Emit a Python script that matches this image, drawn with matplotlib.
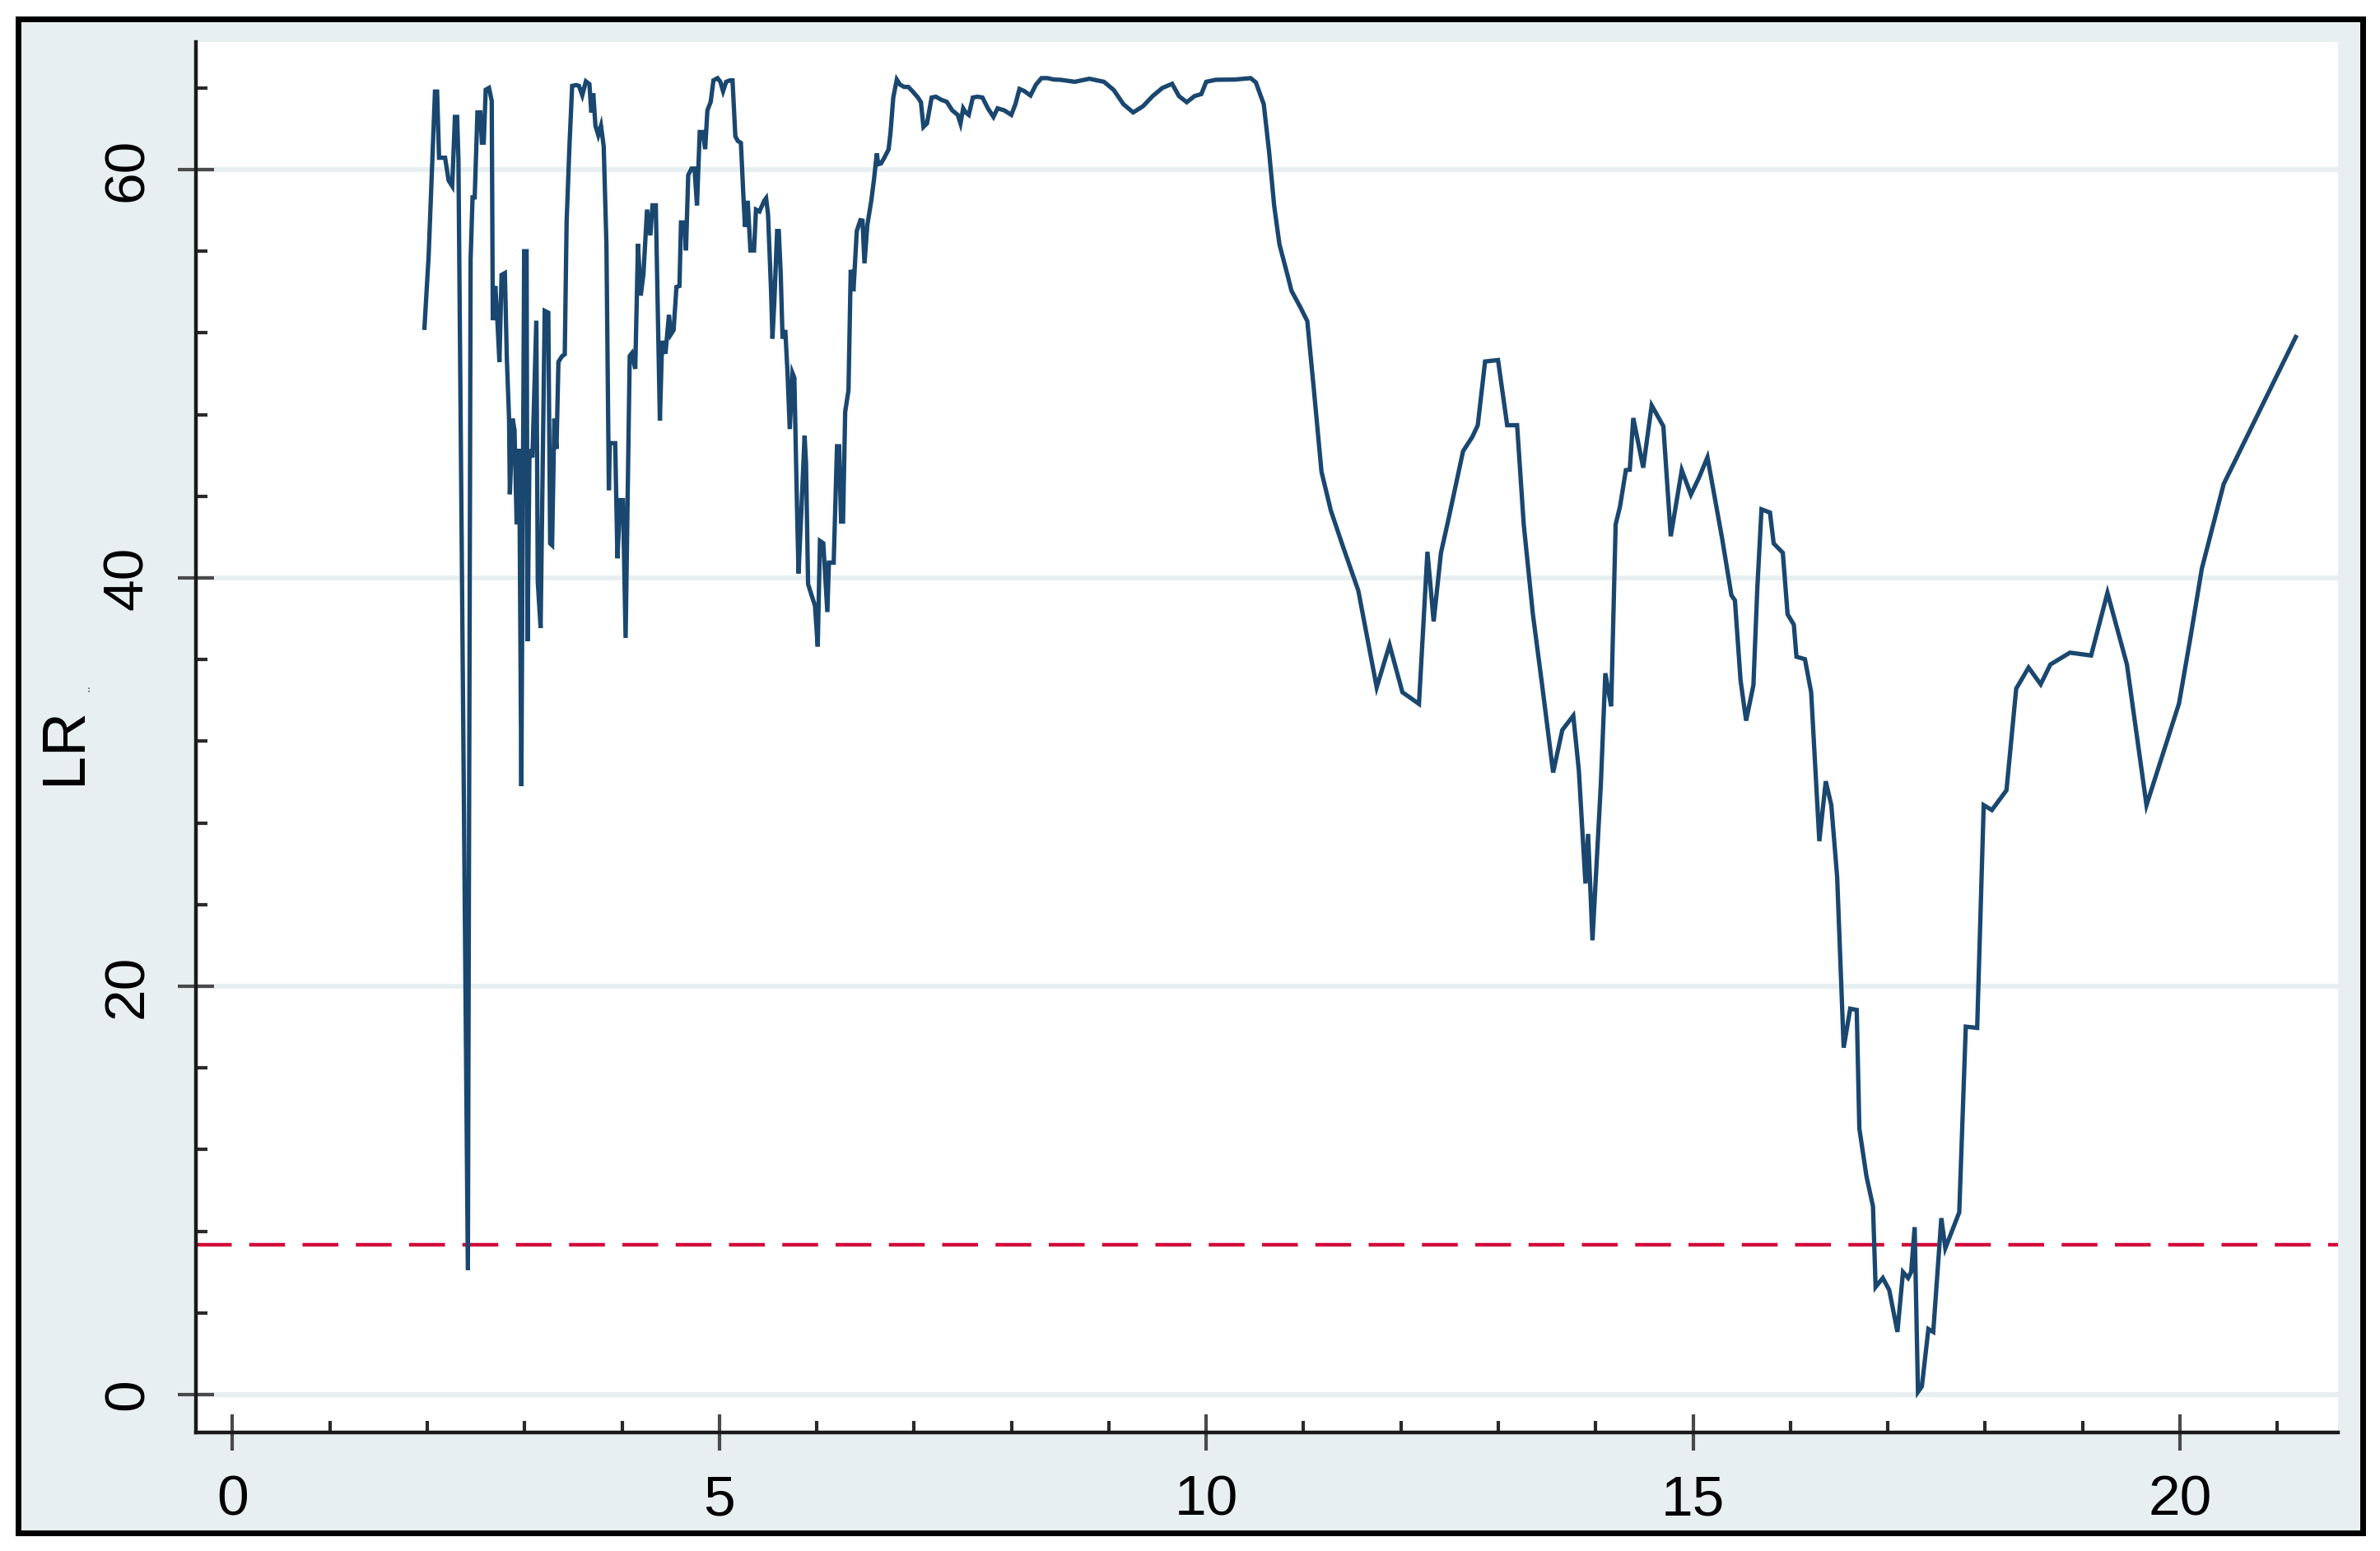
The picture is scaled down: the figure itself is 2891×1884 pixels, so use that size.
import numpy as np
import matplotlib
matplotlib.use("Agg")
import matplotlib.pyplot as plt
from matplotlib.ticker import MultipleLocator, FixedLocator
from matplotlib.patches import Rectangle

# threshold values (x) and likelihood-ratio statistic (y)
threshold = [
    1.971, 2.014, 2.079, 2.101, 2.121, 2.155, 2.183, 2.219, 2.256, 2.284,
    2.307, 2.320, 2.417, 2.445, 2.465, 2.487, 2.515, 2.544, 2.561, 2.580,
    2.600, 2.634, 2.662, 2.673, 2.699, 2.718, 2.741, 2.763, 2.797, 2.817,
    2.840, 2.848, 2.876, 2.896, 2.918, 2.944, 2.966, 2.995, 3.020, 3.030,
    3.050, 3.080, 3.120, 3.135, 3.164, 3.206, 3.243, 3.262, 3.282, 3.305,
    3.327, 3.347, 3.384, 3.412, 3.431, 3.460, 3.488, 3.530, 3.558, 3.592,
    3.629, 3.665, 3.685, 3.705, 3.727, 3.756, 3.784, 3.812, 3.840, 3.865,
    3.875, 3.930, 3.953, 3.981, 4.010, 4.037, 4.079, 4.100, 4.136, 4.164,
    4.192, 4.220, 4.257, 4.291, 4.313, 4.347, 4.389, 4.412, 4.446, 4.482,
    4.502, 4.530, 4.559, 4.590, 4.606, 4.640, 4.657, 4.680, 4.714, 4.745,
    4.770, 4.798, 4.830, 4.854, 4.877, 4.911, 4.939, 4.981, 5.010, 5.038,
    5.070, 5.108, 5.135, 5.164, 5.190, 5.221, 5.249, 5.263, 5.291, 5.319,
    5.356, 5.376, 5.412, 5.460, 5.480, 5.500, 5.531, 5.545, 5.565, 5.593,
    5.610, 5.630, 5.649, 5.677, 5.700, 5.723, 5.751, 5.770, 5.799, 5.813,
    5.840, 5.875, 5.890, 5.911, 5.950, 5.982, 6.010, 6.033, 6.067, 6.109,
    6.125, 6.174, 6.208, 6.230, 6.250, 6.270, 6.292, 6.326, 6.349, 6.377,
    6.411, 6.448, 6.470, 6.490, 6.520, 6.560, 6.588, 6.617, 6.631, 6.660,
    6.693, 6.738, 6.758, 6.786, 6.822, 6.856, 6.898, 6.940, 6.983, 7.039,
    7.070, 7.096, 7.132, 7.180, 7.223, 7.279, 7.335, 7.392, 7.448, 7.476,
    7.504, 7.530, 7.561, 7.603, 7.650, 7.702, 7.758, 7.815, 7.857, 7.927,
    7.998, 8.040, 8.082, 8.130, 8.195, 8.251, 8.308, 8.370, 8.435, 8.500,
    8.650, 8.800, 8.950, 9.050, 9.150, 9.250, 9.350, 9.450, 9.550, 9.650,
    9.720, 9.800, 9.880, 9.950, 10.000, 10.100, 10.294, 10.456, 10.510, 10.591,
    10.645, 10.698, 10.752, 10.833, 10.876, 10.968, 11.038, 11.103, 11.184, 11.280,
    11.400, 11.562, 11.637, 11.751, 11.883, 12.015, 12.185, 12.272, 12.336, 12.411,
    12.487, 12.581, 12.638, 12.732, 12.789, 12.864, 12.997, 13.091, 13.193, 13.261,
    13.355, 13.450, 13.563, 13.657, 13.770, 13.827, 13.895, 13.922, 13.967, 14.053,
    14.099, 14.159, 14.205, 14.250, 14.310, 14.350, 14.386, 14.488, 14.575, 14.640,
    14.695, 14.771, 14.884, 14.978, 15.060, 15.148, 15.220, 15.299, 15.394, 15.430,
    15.488, 15.545, 15.620, 15.660, 15.703, 15.790, 15.828, 15.922, 15.971, 16.035,
    16.062, 16.149, 16.213, 16.297, 16.363, 16.420, 16.480, 16.547, 16.614, 16.681,
    16.708, 16.781, 16.848, 16.875, 16.949, 17.015, 17.099, 17.156, 17.209, 17.240,
    17.276, 17.310, 17.350, 17.417, 17.467, 17.550, 17.591, 17.734, 17.801, 17.918,
    17.985, 18.069, 18.219, 18.319, 18.446, 18.570, 18.670, 18.871, 19.088, 19.256,
    19.456, 19.657, 19.824, 19.991, 20.108, 20.225, 20.450, 21.190,
]
lr_stat = [
    52.25, 55.77, 63.82, 63.82, 60.58, 60.58, 60.58, 59.47, 59.19, 62.58,
    62.58, 60.50, 6.09, 55.58, 58.64, 58.64, 62.80, 62.80, 61.32, 61.32,
    63.91, 64.00, 63.36, 52.62, 54.29, 52.80, 50.58, 54.84, 54.93, 50.77,
    47.80, 44.10, 47.80, 47.25, 42.62, 46.32, 29.80, 56.00, 56.00, 36.90,
    46.30, 45.90, 52.60, 39.80, 37.55, 53.08, 52.99, 41.69, 41.60, 47.80,
    46.32, 50.58, 50.86, 50.95, 57.43, 61.14, 64.10, 64.14, 64.10, 63.64,
    64.32, 64.19, 62.80, 63.73, 62.15, 61.69, 62.15, 61.14, 56.32, 44.30,
    46.60, 46.60, 40.96, 43.81, 43.81, 37.06, 50.87, 51.00, 50.24, 56.36,
    53.83, 54.88, 58.04, 56.78, 58.25, 58.25, 47.71, 51.61, 50.98, 52.88,
    51.93, 52.14, 54.25, 54.30, 57.41, 57.41, 56.04, 59.73, 60.05, 60.05,
    58.25, 61.84, 61.84, 61.00, 62.90, 63.32, 64.37, 64.48, 64.30, 63.84,
    64.30, 64.37, 64.37, 61.63, 61.40, 61.31, 58.47, 57.20, 58.47, 56.04,
    56.04, 58.04, 57.95, 58.47, 58.60, 57.80, 54.04, 51.72, 53.60, 56.99,
    56.99, 54.90, 51.72, 52.14, 50.03, 47.29, 50.03, 49.80, 43.07, 40.22,
    43.07, 46.97, 45.60, 39.70, 39.10, 38.64, 36.64, 41.81, 41.70, 38.33,
    40.75, 40.75, 46.45, 46.45, 42.76, 42.76, 48.13, 49.19, 55.09, 54.04,
    56.99, 57.52, 57.50, 55.41, 57.30, 58.47, 59.52, 60.79, 60.26, 60.30,
    60.57, 60.99, 61.84, 63.53, 64.41, 64.16, 64.05, 64.05, 63.84, 63.53,
    63.30, 62.09, 62.26, 63.53, 63.57, 63.42, 63.32, 62.90, 62.68, 62.26,
    63.00, 62.80, 62.68, 63.53, 63.57, 63.53, 63.00, 62.58, 63.00, 62.90,
    62.68, 63.20, 63.95, 63.85, 63.63, 64.16, 64.48, 64.48, 64.41, 64.40,
    64.30, 64.45, 64.30, 63.90, 63.20, 62.80, 63.10, 63.60, 64.00, 64.20,
    63.60, 63.30, 63.60, 63.70, 64.30, 64.40, 64.41, 64.48, 64.27, 63.20,
    60.91, 58.23, 56.34, 54.87, 54.06, 53.25, 52.58, 49.36, 45.20, 43.30,
    41.60, 39.38, 37.50, 34.64, 36.72, 34.40, 33.83, 41.28, 37.87, 41.23,
    42.85, 44.93, 46.21, 46.90, 47.48, 50.60, 50.67, 47.48, 47.48, 42.62,
    38.22, 34.75, 30.47, 32.55, 33.25, 30.58, 25.03, 27.46, 22.25, 29.89,
    35.33, 33.71, 42.62, 43.50, 45.28, 45.30, 47.83, 45.40, 48.45, 47.90,
    47.43, 42.04, 45.28, 44.08, 44.90, 45.91, 44.00, 41.92, 39.15, 38.90,
    34.98, 33.01, 34.75, 39.50, 43.36, 43.20, 41.69, 41.23, 38.22, 37.71,
    36.14, 36.02, 34.40, 27.11, 30.04, 28.87, 25.35, 16.99, 18.90, 18.84,
    13.03, 10.69, 9.22, 5.27, 5.71, 5.12, 3.07, 6.00, 5.71, 6.00,
    8.20, 0.13, 0.40, 3.21, 3.07, 8.64, 7.17, 8.93, 18.02, 17.96,
    28.87, 28.63, 29.60, 34.58, 35.61, 34.79, 35.76, 36.34, 36.20, 39.27,
    35.76, 28.87, 31.36, 33.85, 37.07, 40.45, 44.60, 51.80,
]
crit_value = 7.35

x_major = [0, 5, 10, 15, 20]
y_major = [0, 20, 40, 60]

bg = "#e8eff1"
navy = "#1a476f"

plt.rcParams["font.family"] = ["Liberation Sans", "DejaVu Sans"]
plt.rcParams["lines.scale_dashes"] = False

W, H, DPI = 2891, 1884, 200
fig = plt.figure(figsize=(W / DPI, H / DPI), dpi=DPI, facecolor="white")

# outer panel with black frame, kept behind the axes
frame = Rectangle((21.5 / W, 1 - 1861.5 / H), (2870 - 21.5) / W, (1861.5 - 22.5) / H,
                  transform=fig.transFigure, facecolor=bg, edgecolor="black",
                  linewidth=2.5, zorder=-10)
fig.patches.append(frame)

ax = fig.add_axes([238 / W, 1 - 1740 / H, (2840 - 238) / W, (1740 - 51) / H])
ax.set_zorder(1)
ax.set_facecolor("white")

ax.set_xlim(-0.376, 21.624)
ax.set_ylim(-1.855, 66.25)

for v in y_major:
    ax.axhline(v, color=bg, lw=2.2, zorder=1)

ax.plot(threshold, lr_stat, color=navy, lw=1.9, zorder=3, solid_joinstyle="miter")
ax.axhline(crit_value, color="#d2093a", lw=1.6, dashes=(15.66, 7.65), zorder=2)

for s in ["top", "right"]:
    ax.spines[s].set_visible(False)
for s in ["left", "bottom"]:
    ax.spines[s].set_color("#1a1a1a")
    ax.spines[s].set_linewidth(1.6)

ax.xaxis.set_major_locator(FixedLocator(x_major))
ax.xaxis.set_minor_locator(MultipleLocator(1))
ax.yaxis.set_major_locator(FixedLocator(y_major))
ax.yaxis.set_minor_locator(MultipleLocator(4))

ax.tick_params(which="major", direction="inout", length=15.5, width=1.5, color="#4a4a4a",
               labelsize=25, pad=10.5)
ax.tick_params(which="minor", direction="in", length=5, width=1.5, color="#2a2a2a")
ax.set_xticklabels([str(v) for v in x_major])
ax.set_yticklabels([str(v) for v in y_major], rotation=90, va="center")

fig.text(79 / W, 1 - 906 / H, "LR", rotation=90, ha="center", va="center", fontsize=26.5)
fig.text(104 / W, 1 - 835 / H, "..", rotation=90, ha="center", va="center", fontsize=6,
         color="#555577")

fig.savefig("out.png", dpi=DPI, facecolor="white")
